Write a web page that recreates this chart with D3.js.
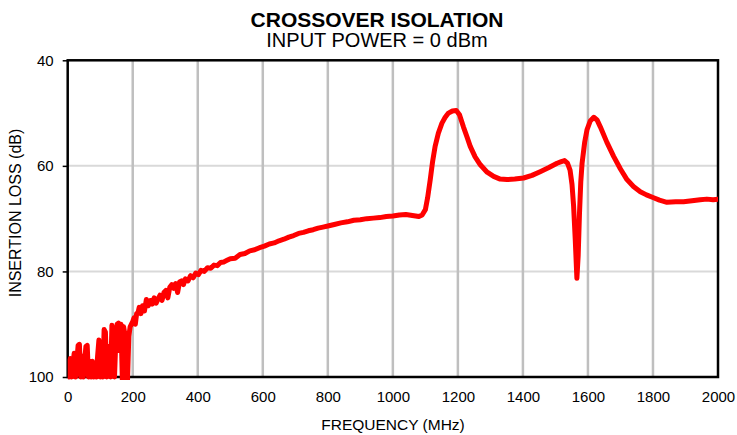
<!DOCTYPE html>
<html><head><meta charset="utf-8">
<script src="https://cdn.jsdelivr.net/npm/d3@7"></script>
<style>body{margin:0;background:#fff}svg{display:block}text{font-family:"Liberation Sans",Arial,sans-serif;fill:#000}</style>
</head><body>
<svg id="c" width="737" height="435"></svg>
<script>
const titleText = "CROSSOVER ISOLATION";
const subtitleText = "INPUT POWER = 0 dBm";
const xLabel = "FREQUENCY (MHz)";
const yLabel = "INSERTION LOSS (dB)";
const xTicks = [0,200,400,600,800,1000,1200,1400,1600,1800,2000];
const yTicks = [40,60,80,100];
const freqMHz = [0,4,8,12,16,20,24,28,32,36,40,44,48,52,56,60,64,68,72,76,80,84,88,92,96,100,104,108,112,116,120,124,128,132,136,140,144,148,152,156,160,164,168,172,176,180,184,188,192,196,200,204,208,212,216,220,225,230,236,242,248,254,260,266,272,278,284,290,296,302,308,314,320,326,332,338,344,350,356,362,370,378,386,394,402,410,420,430,440,450,460,470,480,490,500,515,530,545,560,575,590,605,620,635,650,665,680,695,710,725,740,755,770,785,800,820,840,860,880,900,920,940,960,980,1000,1020,1040,1060,1080,1090,1100,1107,1115,1122,1130,1140,1151,1161,1171,1183,1195,1205,1217,1228,1238,1253,1269,1290,1310,1330,1351,1375,1402,1428,1453,1480,1505,1518,1528,1537,1545,1551,1556,1561,1566,1570,1574,1578,1582,1590,1597,1607,1618,1628,1638,1658,1679,1700,1720,1740,1761,1780,1800,1820,1843,1870,1894,1920,1945,1966,1985,2000];
const lossDB = [97,100,96.5,100,97.5,95.5,100,97,94,93.8,100,96,100,97,94.2,94,100,97,100,97,100,97.5,100,96,93,100,96.8,100,91,91.5,100,95,94.2,100,90.2,92,100,93,90,89.8,95,90,100.5,90.5,92,101,100.5,92.3,90.5,90,89.5,88.8,90,88,87.9,86.8,88,86.5,87.5,85.3,86.5,85.5,86.2,85,86,85.2,84.5,85.5,84,83.6,85,83,82.5,83.2,82.3,84,82,81.8,82.5,81.4,81.8,80.8,81.2,80.3,80.6,79.8,80,79.3,79.4,78.8,78.9,78.3,78.2,77.9,77.6,77.5,76.8,76.6,76.1,75.9,75.5,75.2,74.8,74.6,74.2,73.9,73.5,73.2,72.8,72.6,72.3,72.1,71.8,71.6,71.4,71.1,70.8,70.6,70.3,70.2,70.0,69.9,69.8,69.6,69.5,69.3,69.2,69.4,69.6,69.3,68.3,66,62.6,59.3,56.3,53.8,51.9,50.8,50.0,49.6,49.5,50.3,52.6,54.5,56.3,58.3,59.8,61.2,62.0,62.5,62.6,62.5,62.3,61.8,61.1,60.3,59.5,59.2,59.0,59.5,60.8,63.5,67.7,74,81.3,77,69,63,59.5,55.5,53.2,51.5,50.8,51.3,52.6,55.5,58.2,60.6,62.6,63.9,64.9,65.5,66.0,66.5,66.9,66.8,66.8,66.6,66.4,66.3,66.4,66.3];

const svg = d3.select("#c");
const L = 67.7, R = 718, T = 60.3, B = 377;
const x = d3.scaleLinear().domain([0,2000]).range([L,R]);
const y = d3.scaleLinear().domain([40,100]).range([T,B]);
const FF = "Liberation Sans, Arial, sans-serif";

// grid
svg.append("g").selectAll("line").data(yTicks.slice(1,-1)).join("line")
  .attr("x1",L).attr("x2",R).attr("y1",d=>y(d)).attr("y2",d=>y(d))
  .attr("stroke","#d9d9d9").attr("stroke-width",2);
svg.append("g").selectAll("line").data(xTicks.slice(1,-1)).join("line")
  .attr("y1",T).attr("y2",B).attr("x1",d=>x(d)).attr("x2",d=>x(d))
  .attr("stroke","#bfbfbf").attr("stroke-width",2.5);

// frame
svg.append("rect").attr("x",L).attr("y",T).attr("width",R-L).attr("height",B-T)
  .attr("fill","none").attr("stroke","#000").attr("stroke-width",2.5);

// y axis ticks & labels
const yAxis = d3.axisLeft(y).tickValues(yTicks).tickSize(5).tickPadding(9);
const gy = svg.append("g").attr("transform",`translate(${L},0)`).call(yAxis);
gy.select(".domain").remove();
gy.selectAll("line").attr("stroke","#000").attr("stroke-width",1.5);
gy.selectAll("text").style("font-size","15px").style("font-family",FF);

// x axis labels
const xAxis = d3.axisBottom(x).tickValues(xTicks).tickSize(0).tickPadding(14).tickFormat(d3.format("d"));
const gx = svg.append("g").attr("transform",`translate(0,${B})`).call(xAxis);
gx.select(".domain").remove();
gx.selectAll("text").style("font-size","15px").style("font-family",FF);

// data line
svg.append("clipPath").attr("id","clip").append("rect")
  .attr("x",L).attr("y",T).attr("width",R-L).attr("height",B-T+3);
const pts = freqMHz.map((f,i)=>[f,lossDB[i]]);
svg.append("path").datum(pts).attr("clip-path","url(#clip)")
  .attr("fill","none").attr("stroke","#ff0000").attr("stroke-width",5)
  .attr("stroke-linejoin","round").attr("stroke-linecap","round")
  .attr("d",d3.line().x(d=>x(d[0])).y(d=>y(d[1])));

// titles
svg.append("text").attr("x",377).attr("y",27).attr("text-anchor","middle")
  .style("font-size","21px").style("font-weight","bold").text(titleText);
svg.append("text").attr("x",377).attr("y",47).attr("text-anchor","middle")
  .style("font-size","20px").text(subtitleText);
svg.append("text").attr("x",393).attr("y",430).attr("text-anchor","middle")
  .style("font-size","15.5px").text(xLabel);
svg.append("text").attr("transform",`translate(21,213) rotate(-90)`).attr("text-anchor","middle")
  .style("font-size","16px").text(yLabel);
</script>
</body></html>
